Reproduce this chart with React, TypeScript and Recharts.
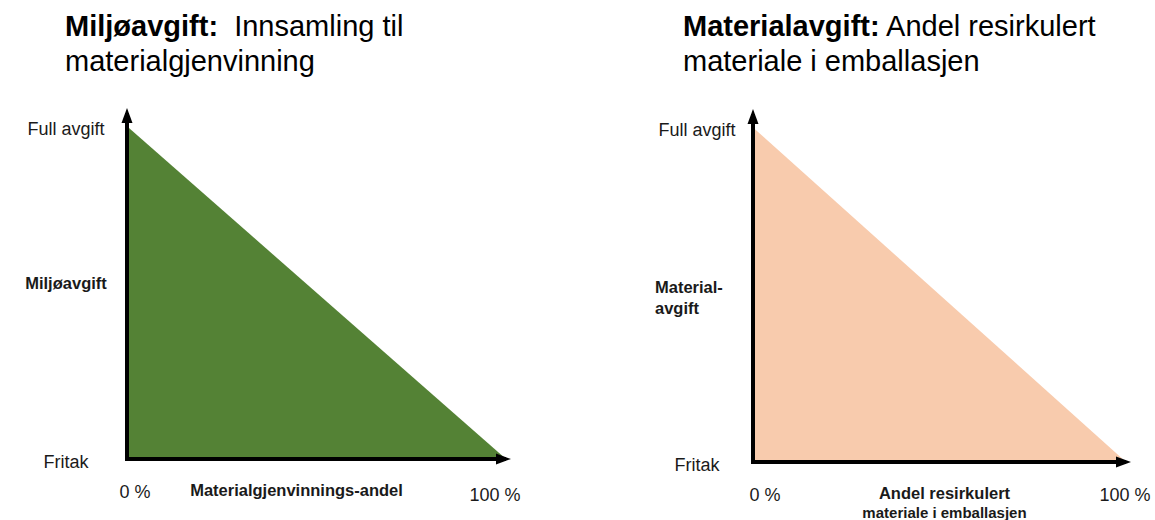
import { ComposedChart, Area, XAxis, YAxis, Label } from "recharts";

// andel (%) langs x-aksen, avgiftsnivå (%) langs y-aksen
const shares = [0, 100];
const feeLevels = [100, 0];

const yTicks = [0, 100];
const yTickLabels = ["Fritak", "Full avgift"];
const xTicks = [0, 100];
const xTickLabels = ["0 %", "100 %"];

const leftTitle = ["Miljøavgift:", "Innsamling til", "materialgjenvinning"];
const rightTitle = ["Materialavgift:", "Andel resirkulert", "materiale i emballasjen"];
const leftYLabel = ["Miljøavgift"];
const rightYLabel = ["Material-", "avgift"];
const leftXLabel = ["Materialgjenvinnings-andel"];
const rightXLabel = ["Andel resirkulert", "materiale i emballasjen"];

const data = shares.map((share, i) => ({ share, fee: feeLevels[i] }));

const FONT = '"Liberation Sans", Arial, sans-serif';
const TEXT = "#1a1a1a";

interface PanelProps {
  width: number;
  fill: string;
  marginTop: number;
  marginRight: number;
  axisWidth: number;
  axisHeight: number;
  title: string[];
  titleLeft: number;
  titleGap: string;
  yLabel: string[];
  yLabelAnchor: "middle" | "start";
  yLabelDx: number;
  yLabelDy: number;
  yTickGap: number;
  xLabel: string[];
  xLabelDx: number;
  xTickDx: number[];
  xTickDy: number[];
}

function Panel(p: PanelProps) {
  const renderYTick = ({ x, y, payload }: any) => (
    <text
      x={x}
      y={y + 3}
      textAnchor="middle"
      dominantBaseline="central"
      fontSize={18}
      fill={TEXT}
      fontFamily={FONT}
    >
      {yTickLabels[yTicks.indexOf(payload.value)]}
    </text>
  );

  const renderXTick = ({ x, y, payload }: any) => {
    const i = xTicks.indexOf(payload.value);
    return (
      <text
        x={x + p.xTickDx[i]}
        y={y + p.xTickDy[i]}
        textAnchor="middle"
        dominantBaseline="central"
        fontSize={18}
        fill={TEXT}
        fontFamily={FONT}
      >
        {xTickLabels[i]}
      </text>
    );
  };

  const renderYLabel = ({ viewBox }: any) => {
    const cx = viewBox.x + viewBox.width + p.yLabelDx;
    const cy = viewBox.y + viewBox.height / 2 + p.yLabelDy;
    const start = cy - ((p.yLabel.length - 1) * 21) / 2;
    return (
      <text
        textAnchor={p.yLabelAnchor}
        dominantBaseline="central"
        fontSize={16.5}
        fontWeight="bold"
        fill={TEXT}
        fontFamily={FONT}
      >
        {p.yLabel.map((line, i) => (
          <tspan key={line} x={cx} y={start + i * 21}>
            {line}
          </tspan>
        ))}
      </text>
    );
  };

  const renderXLabel = ({ viewBox }: any) => {
    const cx = viewBox.x + viewBox.width / 2 + p.xLabelDx;
    return (
      <text
        textAnchor="middle"
        dominantBaseline="central"
        fontWeight="bold"
        fill={TEXT}
        fontFamily={FONT}
      >
        {p.xLabel.map((line, i) => (
          <tspan key={line} x={cx} y={viewBox.y + 31 + i * 19} fontSize={i === 0 ? 16.5 : 15}>
            {line}
          </tspan>
        ))}
      </text>
    );
  };

  return (
    <div style={{ position: "relative", width: p.width, height: 520 }}>
      <div
        style={{
          position: "absolute",
          left: p.titleLeft,
          top: 9,
          fontFamily: FONT,
          fontSize: 29,
          lineHeight: "35px",
          color: "#000",
          whiteSpace: "pre",
        }}
      >
        <b>{p.title[0]}</b>
        {p.titleGap + p.title[1]}
        <br />
        {p.title[2]}
      </div>
      <ComposedChart
        width={p.width}
        height={520}
        data={data}
        margin={{ top: p.marginTop, right: p.marginRight, bottom: 0, left: 0 }}
      >
        <Area
          type="linear"
          dataKey="fee"
          fill={p.fill}
          fillOpacity={1}
          stroke="none"
          isAnimationActive={false}
          activeDot={false}
        />
        <XAxis
          dataKey="share"
          type="number"
          domain={[0, 100]}
          ticks={xTicks}
          height={p.axisHeight}
          tickSize={0}
          tickMargin={33}
          tickLine={false}
          tick={renderXTick}
          axisLine={{
            stroke: "#000",
            strokeWidth: 4,
            markerStart: "url(#corner)",
            markerEnd: "url(#arrow)",
          }}
        >
          <Label content={renderXLabel} />
        </XAxis>
        <YAxis
          type="number"
          domain={[0, 104]}
          ticks={yTicks}
          width={p.axisWidth}
          tickSize={0}
          tickMargin={p.yTickGap}
          tickLine={false}
          tick={renderYTick}
          axisLine={{ stroke: "#000", strokeWidth: 4, markerStart: "url(#arrow)" }}
        >
          <Label content={renderYLabel} />
        </YAxis>
      </ComposedChart>
    </div>
  );
}

export default function App() {
  return (
    <div style={{ position: "absolute", left: 0, top: 0, width: 1155, height: 520, background: "#fff" }}>
      <svg width={0} height={0} style={{ position: "absolute" }}>
        <defs>
          <marker
            id="arrow"
            markerUnits="userSpaceOnUse"
            markerWidth={1}
            markerHeight={1}
            refX={0}
            refY={0}
            orient="auto-start-reverse"
            overflow="visible"
          >
            <path d="M-10,-5.5 L5,0 L-10,5.5 Z" fill="#000" />
          </marker>
          <marker
            id="corner"
            markerUnits="userSpaceOnUse"
            markerWidth={1}
            markerHeight={1}
            refX={0}
            refY={0}
            orient="auto"
            overflow="visible"
          >
            <path d="M-2,-2 H0.5 V2 H-2 Z" fill="#000" />
          </marker>
        </defs>
      </svg>
      <div style={{ display: "flex" }}>
        <Panel
          width={577}
          fill="#548235"
          marginTop={113}
          marginRight={71}
          axisWidth={127}
          axisHeight={61}
          title={leftTitle}
          titleLeft={65}
          titleGap={"  "}
          yLabel={leftYLabel}
          yLabelAnchor="middle"
          yLabelDx={-61}
          yLabelDy={-3}
          yTickGap={61}
          xLabel={leftXLabel}
          xLabelDx={-20}
          xTickDx={[8, -11]}
          xTickDy={[0, 3]}
        />
        <Panel
          width={578}
          fill="#F8CBAD"
          marginTop={114}
          marginRight={29}
          axisWidth={176}
          axisHeight={58}
          title={rightTitle}
          titleLeft={106}
          titleGap={" "}
          yLabel={rightYLabel}
          yLabelAnchor="start"
          yLabelDx={-98}
          yLabelDy={9}
          yTickGap={56}
          xLabel={rightXLabel}
          xLabelDx={5}
          xTickDx={[12, -1]}
          xTickDy={[0, 0]}
        />
      </div>
    </div>
  );
}
